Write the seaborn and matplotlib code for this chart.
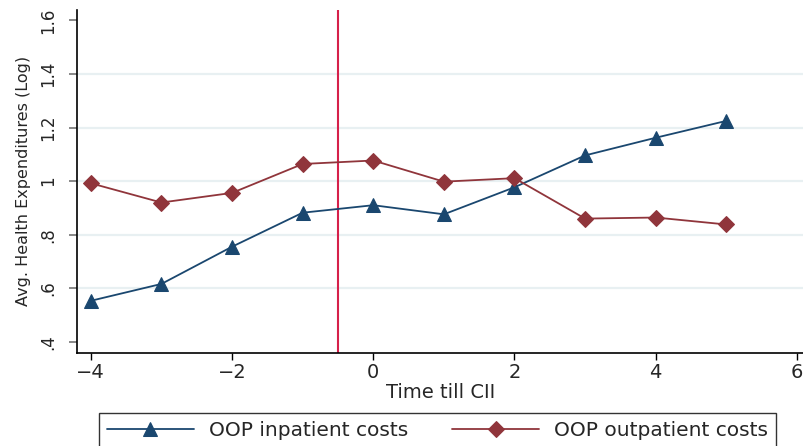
import matplotlib
matplotlib.use("Agg")
import matplotlib.pyplot as plt
import seaborn as sns
import pandas as pd

time = [-4, -3, -2, -1, 0, 1, 2, 3, 4, 5]
inpatient = [0.553, 0.616, 0.755, 0.882, 0.910, 0.876, 0.977, 1.096, 1.162, 1.225]
outpatient = [0.992, 0.920, 0.956, 1.064, 1.077, 0.998, 1.011, 0.860, 0.864, 0.838]
series_names = ["OOP inpatient costs", "OOP outpatient costs"]
yticks = [0.4, 0.6, 0.8, 1.0, 1.2, 1.4, 1.6]
ytick_labels = [".4", ".6", ".8", "1", "1.2", "1.4", "1.6"]
xticks = [-4, -2, 0, 2, 4, 6]
xtick_labels = ["\u22124", "\u22122", "0", "2", "4", "6"]
event_x = -0.5

sns.set_style("white")
plt.rcParams["font.family"] = ["DejaVu Sans"]

fig = plt.figure(figsize=(8.04, 4.46), dpi=100)
ax = fig.add_axes([76.7/804, (446-353)/446, (804-76.7)/804, (353-9.5)/446])

blue = "#1a476f"
red = "#90353b"

df = pd.DataFrame({
    "t": time * 2,
    "v": inpatient + outpatient,
    "s": [series_names[0]] * len(time) + [series_names[1]] * len(time),
})

for g in yticks[1:-1]:
    ax.axhline(g, color="#e8f0f2", lw=1.6, zorder=0)

sns.lineplot(data=df[df.s == series_names[0]], x="t", y="v", ax=ax, color=blue,
             marker="^", markersize=10.5, markeredgecolor=blue, lw=1.3, label=series_names[0])
sns.lineplot(data=df[df.s == series_names[1]], x="t", y="v", ax=ax, color=red,
             marker="D", markersize=8.5, markeredgecolor=red, lw=1.3, label=series_names[1])

ax.axvline(event_x, color="#d6204a", lw=1.5, zorder=1)

ax.set_xlim(-4.2, 6.1)
ax.set_ylim(0.358, 1.641)
ax.set_xticks(xticks)
ax.set_xticklabels(xtick_labels, fontsize=14)
ax.set_yticks(yticks)
ax.set_yticklabels(ytick_labels, fontsize=12, rotation=90, va="center")
ax.tick_params(axis="x", length=5, width=1, color="black", pad=2, direction="out", bottom=True)
ax.tick_params(axis="y", length=6, width=1.3, color="#7f7f7f", pad=8, direction="out", left=True)
for side in ["top", "right"]:
    ax.spines[side].set_visible(False)
for side in ["left", "bottom"]:
    ax.spines[side].set_color("black")
    ax.spines[side].set_linewidth(1.2)
ax.set_xlabel("Time till CII", fontsize=14, labelpad=1)
ax.set_ylabel("Avg. Health Expenditures (Log)", fontsize=11.5, labelpad=6)

ax.get_legend().remove()
h, l = ax.get_legend_handles_labels()
leg = fig.legend(h, l, loc="upper left", bbox_to_anchor=(99/804, 1 - 413/446),
                 ncol=2, fontsize=14.5, frameon=True, fancybox=False, borderaxespad=0,
                 handlelength=4.3, handletextpad=0.75, columnspacing=2.2,
                 borderpad=0.4)
leg.get_frame().set_edgecolor("black")
leg.get_frame().set_linewidth(1.0)

fig.savefig("out.png", dpi=100)
